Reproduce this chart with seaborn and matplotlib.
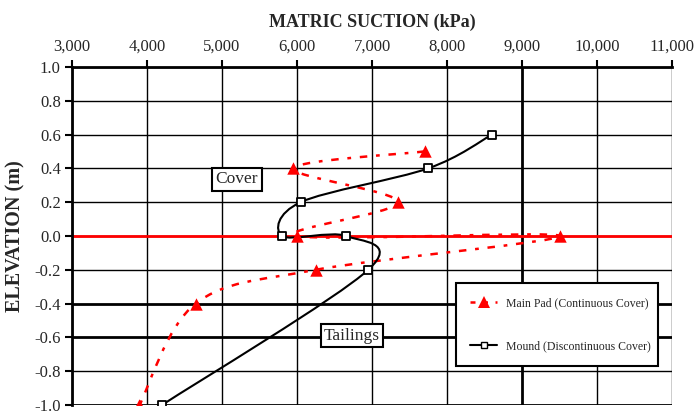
import numpy as np
import pandas as pd
import matplotlib
matplotlib.use("Agg")
import matplotlib.pyplot as plt
import seaborn as sns
from matplotlib.path import Path
from matplotlib.patches import PathPatch
from matplotlib.lines import Line2D

# data
pad_suction = [7700, 5950, 7350, 6000, 9500, 6250, 4650, 3900]
pad_elev = [0.5, 0.4, 0.2, 0.0, 0.0, -0.2, -0.4, -1.0]
mound_suction = [8600, 7750, 6050, 5800, 6650, 6950, 4200]
mound_elev = [0.6, 0.4, 0.2, 0.0, 0.0, -0.2, -1.0]
x_ticks = [3000, 4000, 5000, 6000, 7000, 8000, 9000, 10000, 11000]
y_ticks = [-1.0, -0.8, -0.6, -0.4, -0.2, 0.0, 0.2, 0.4, 0.6, 0.8, 1.0]

pad = pd.DataFrame({"suction": pad_suction, "elev": pad_elev})
mound = pd.DataFrame({"suction": mound_suction, "elev": mound_elev})

sns.set_style("white")
plt.rcParams["font.family"] = ["Liberation Serif", "DejaVu Serif"]

fig = plt.figure(figsize=(6.98, 4.18), dpi=100)
ax = fig.add_axes([0.103, 0.031, 0.860, 0.809])
ax.set_xlim(3000, 11000)
ax.set_ylim(-1.0, 1.0)


def smooth_path(ax, xs, ys):
    # excel style smoothed line: catmull-rom bezier done in screen space
    pts = ax.transData.transform(np.column_stack([xs, ys]))
    n = len(pts)
    verts = [pts[0]]
    codes = [Path.MOVETO]
    for i in range(n - 1):
        p0 = pts[i - 1] if i > 0 else pts[i]
        p1 = pts[i]
        p2 = pts[i + 1]
        p3 = pts[i + 2] if i + 2 < n else pts[i + 1]
        c1 = p1 + (p2 - p0) / 6.0
        c2 = p2 - (p3 - p1) / 6.0
        verts += [c1, c2, p2]
        codes += [Path.CURVE4] * 3
    verts = ax.transData.inverted().transform(np.array(verts))
    return Path(verts, codes)


ax.set_xticks(x_ticks)
ax.set_yticks(y_ticks)
ax.grid(True, color="black", linewidth=1.0)
# a few grid lines are drawn heavier in the original
for i, gl in enumerate(ax.get_xgridlines()):
    if x_ticks[i] == 9000:
        gl.set_linewidth(2.0)
for i, gl in enumerate(ax.get_ygridlines()):
    if y_ticks[i] in (-0.4, -0.6, -1.0):
        gl.set_linewidth(2.0)

ax.axhline(0.0, color="red", linewidth=2, zorder=2)

pad_style = (0, (3, 3.5, 1.5, 3.5))
ax.add_patch(PathPatch(smooth_path(ax, pad_suction, pad_elev), facecolor="none",
                       edgecolor="red", linewidth=1.8, linestyle=pad_style, zorder=3))
ax.add_patch(PathPatch(smooth_path(ax, mound_suction, mound_elev), facecolor="none",
                       edgecolor="black", linewidth=1.5, zorder=3))

sns.scatterplot(data=pad, x="suction", y="elev", marker="^", s=80, color="red",
                edgecolor="red", linewidth=0, ax=ax, zorder=4)
sns.scatterplot(data=mound, x="suction", y="elev", marker="s", s=26, color="white",
                edgecolor="black", linewidth=1.3, ax=ax, zorder=4)

ax.xaxis.tick_top()
ax.xaxis.set_label_position("top")
ax.set_xticklabels([f"{v:,}" for v in x_ticks])
ax.set_yticklabels([f"{v:.1f}" for v in y_ticks])
ax.tick_params(axis="both", labelsize=12, length=5, width=1.5, color="black", pad=3)
ax.tick_params(axis="x", top=True, bottom=False, pad=4)
ax.tick_params(axis="y", left=True)
ax.set_xlabel("MATRIC SUCTION (kPa)", fontsize=13, fontweight="bold", labelpad=8)
ax.set_ylabel("ELEVATION (m)", fontsize=14.5, fontweight="bold", labelpad=6)

for side in ["top", "left"]:
    ax.spines[side].set_linewidth(2.0)
    ax.spines[side].set_color("black")
ax.spines["right"].set_visible(False)
ax.spines["bottom"].set_visible(False)

box = dict(boxstyle="square,pad=0.2", facecolor="white", edgecolor="black", linewidth=1.5)
ax.text(5200, 0.335, "Cover", fontsize=12.5, ha="center", va="center", bbox=box, zorder=5)
ax.text(6733, -0.59, "Tailings", fontsize=12.5, ha="center", va="center", bbox=box, zorder=5)

handles = [
    Line2D([], [], color="red", linestyle=(0, (2, 3)), linewidth=1.8,
           marker="^", markersize=8, markeredgewidth=0),
    Line2D([], [], color="black", linewidth=1.5, marker="s", markersize=5,
           markerfacecolor="white", markeredgecolor="black"),
]
leg = ax.legend(handles, ["Main Pad (Continuous Cover)", "Mound (Discontinuous Cover)"],
                loc="lower left", bbox_to_anchor=(0.64, 0.115, 0.337, 0.234), mode="expand",
                fontsize=8.5, frameon=True, fancybox=False, labelspacing=2.6,
                handlelength=2.3, handletextpad=0.7, borderpad=1.2, borderaxespad=0,
                framealpha=1)
leg.get_frame().set_edgecolor("black")
leg.get_frame().set_linewidth(1.5)
leg.set_zorder(6)

fig.savefig("out.png", dpi=100)
